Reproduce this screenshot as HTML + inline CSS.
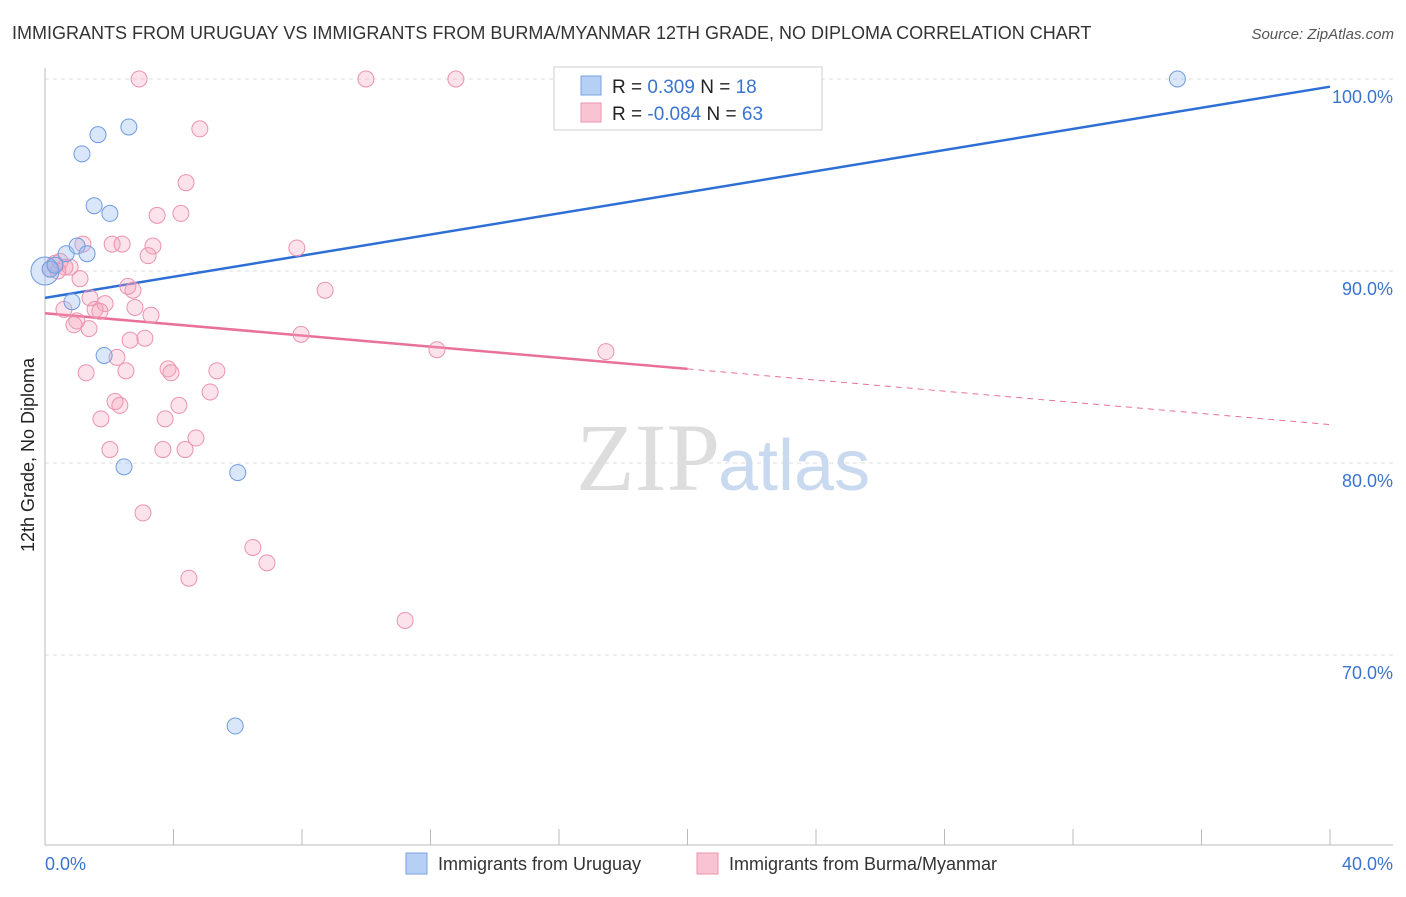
<!DOCTYPE html>
<html><head><meta charset="utf-8"><style>
body{margin:0;background:#fff;font-family:"Liberation Sans",sans-serif;}
</style></head><body>
<svg width="1406" height="892" xmlns="http://www.w3.org/2000/svg">
<text x="12" y="39" font-size="18" fill="#333">IMMIGRANTS FROM URUGUAY VS IMMIGRANTS FROM BURMA/MYANMAR 12TH GRADE, NO DIPLOMA CORRELATION CHART</text>
<text x="1394" y="39" font-size="15" fill="#555" font-style="italic" text-anchor="end">Source: ZipAtlas.com</text>
<g id="grid"></g>
<text x="720" y="490" font-size="96" fill="#ddd" text-anchor="end" font-family="Liberation Serif">ZIP</text>
<text x="718" y="490" font-size="72" fill="#c9daf0">atlas</text>
<line x1="45" y1="68" x2="45" y2="845" stroke="#bbb"/>
<line x1="45" y1="845" x2="1393" y2="845" stroke="#bbb"/>
<text transform="translate(34,455) rotate(-90)" font-size="18" fill="#222" text-anchor="middle">12th Grade, No Diploma</text>
<text x="45" y="870" font-size="18" fill="#3a74d0">0.0%</text>
<text x="1393" y="870" font-size="18" fill="#3a74d0" text-anchor="end">40.0%</text>
<g id="lines"></g>
<g id="pts"></g>
<g>
<rect x="554" y="67" width="268" height="63" fill="#fff" stroke="#ccc"/>
<rect x="581" y="76" width="20" height="19" fill="#b5cff5" stroke="#7aa3e0"/>
<rect x="581" y="103" width="20" height="19" fill="#f8c4d3" stroke="#eb93ae"/>
<text x="612" y="93" font-size="19" fill="#222">R = <tspan fill="#3a74d0">  0.309</tspan>   N = <tspan fill="#3a74d0">18</tspan></text>
<text x="612" y="120" font-size="19" fill="#222">R = <tspan fill="#3a74d0">-0.084</tspan>   N = <tspan fill="#3a74d0">63</tspan></text>
</g>
<g>
<rect x="406" y="853" width="21" height="21" fill="#b5cff5" stroke="#7aa3e0"/>
<text x="438" y="870" font-size="18" fill="#333">Immigrants from Uruguay</text>
<rect x="697" y="853" width="21" height="21" fill="#f8c4d3" stroke="#eb93ae"/>
<text x="729" y="870" font-size="18" fill="#333">Immigrants from Burma/Myanmar</text>
</g>
</svg>
<script>
const yTicks=[100,90,80,70];
const xTickCount=10;
const uruguayX=[0.0,0.66,1.0,1.31,0.84,1.15,1.65,2.61,1.53,2.02,1.84,2.46,6.0,5.92,23.57,35.25,0.16,0.31];
const uruguayY=[90.0,90.9,91.3,90.9,88.4,96.1,97.1,97.5,93.4,93.0,85.6,79.8,79.5,66.3,100,100,90.1,90.3];
const burmaX=[2.93,9.99,12.79,4.82,4.39,3.49,4.23,1.18,2.09,2.40,3.36,3.21,7.84,0.31,0.47,0.62,0.78,0.16,0.40,1.09,8.72,2.74,1.40,2.58,1.87,1.56,1.71,2.80,3.30,0.59,0.99,0.90,1.37,7.97,3.11,2.65,12.20,17.46,2.24,1.28,2.52,3.83,3.92,5.35,5.14,2.18,2.33,4.17,1.74,3.74,4.70,2.02,3.67,4.36,3.05,6.47,6.91,4.48,11.21];
const burmaY=[100,100,100,97.4,94.6,92.9,93.0,91.4,91.4,91.4,91.3,90.8,91.2,90.4,90.5,90.2,90.2,90.1,90.0,89.6,89.0,89.0,88.6,89.2,88.3,88.0,87.9,88.1,87.7,88.0,87.4,87.2,87.0,86.7,86.5,86.4,85.9,85.8,85.5,84.7,84.8,84.9,84.7,84.8,83.7,83.2,83.0,83.0,82.3,82.3,81.3,80.7,80.7,80.7,77.4,75.6,74.8,74.0,71.8];
const trendX=[0,40];
const uruguayTrend=[88.6,99.6];
const burmaTrendSolidEnd=20;
const burmaTrend=[87.8,82.0];
const ns="http://www.w3.org/2000/svg";
const sx=v=>45+v/40*1285;
const sy=v=>79+(100-v)*19.2;
function mk(tag,attrs,parent){const e=document.createElementNS(ns,tag);for(const k in attrs)e.setAttribute(k,attrs[k]);parent.appendChild(e);return e;}
const grid=document.getElementById('grid');
yTicks.forEach(t=>{
 const l=mk('line',{x1:45,x2:1393,y1:sy(t),y2:sy(t),stroke:'#ddd','stroke-dasharray':'4,4'},grid);
 
 
 const tx=mk('text',{x:1393,y:sy(t)+24,'font-size':18,fill:'#3a74d0','text-anchor':'end'},grid);
 tx.textContent=t.toFixed(1)+'%';
 
 
});
for(let i=1;i<=xTickCount;i++){
 const x=sx(i*4);
 const l=mk('line',{x1:x,x2:x,y1:829,y2:845,stroke:'#bbb'},grid);
 
 
}
const lines=document.getElementById('lines');
const lerp=(a,b,x)=>a[0]+(a[1]-a[0])*(x-trendX[0])/(trendX[1]-trendX[0]);
let l1=mk('line',{x1:sx(0),y1:sy(uruguayTrend[0]),x2:sx(40),y2:sy(uruguayTrend[1]),stroke:'#2e6fd6','stroke-width':2.5},lines);


let ym=lerp(burmaTrend,0,burmaTrendSolidEnd);
let l2=mk('line',{x1:sx(0),y1:sy(burmaTrend[0]),x2:sx(burmaTrendSolidEnd),y2:sy(ym),stroke:'#e8709a','stroke-width':2.5},lines);


let l3=mk('line',{x1:sx(burmaTrendSolidEnd),y1:sy(ym),x2:sx(40),y2:sy(burmaTrend[1]),stroke:'#e8709a','stroke-width':1,'stroke-dasharray':'6,5'},lines);


const pts=document.getElementById('pts');
burmaX.forEach((x,i)=>{
 const c=mk('circle',{cx:sx(x),cy:sy(burmaY[i]),r:8,fill:'rgba(244,160,186,0.3)',stroke:'#eb93ae','stroke-width':1},pts);
 
 
});
uruguayX.forEach((x,i)=>{
 const c=mk('circle',{cx:sx(x),cy:sy(uruguayY[i]),r:i===0?14:8,fill:'rgba(150,185,240,0.35)',stroke:'#6f9ce0','stroke-width':1},pts);
 
 
});
</script>
</body></html>
